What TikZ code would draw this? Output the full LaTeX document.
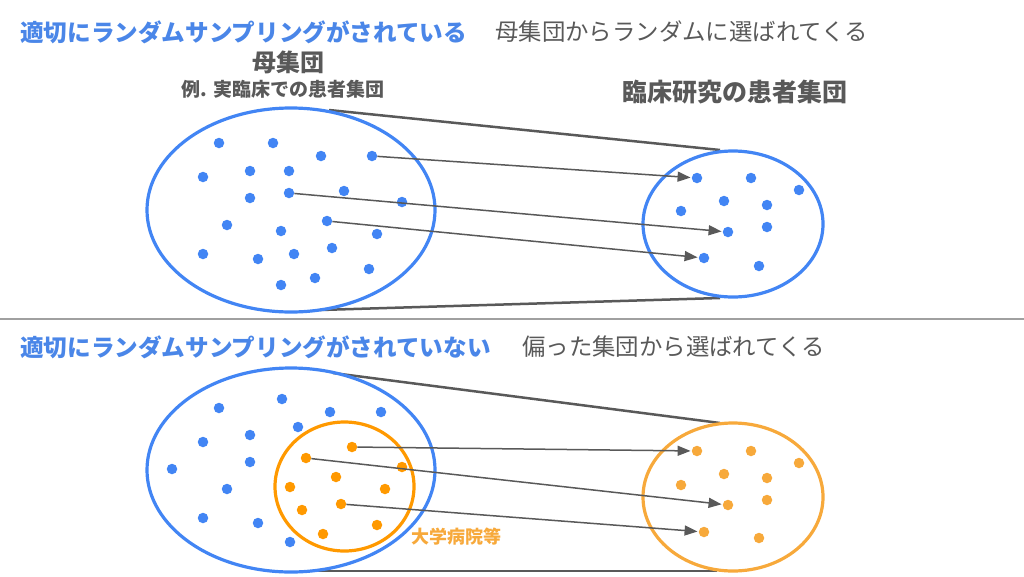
\documentclass[tikz,border=0pt]{standalone}
\usepackage{fontspec}
\setmainfont{Noto Sans CJK JP}
\usetikzlibrary{shapes.geometric,arrows.meta}
\definecolor{gblue}{HTML}{4285F4}
\definecolor{tblue}{HTML}{4A86E8}
\definecolor{dgray}{HTML}{595959}
\definecolor{lgray}{HTML}{A0A0A0}
\definecolor{orA}{HTML}{FF9900}
\definecolor{orB}{HTML}{F7A93B}
\begin{document}
\begin{tikzpicture}[x=1pt,y=-1pt,
  dot/.style={circle,fill=#1,minimum size=10.5pt,inner sep=0pt},
  pop/.style={ellipse,draw=#1,line width=3.2pt,inner sep=0pt},
  tang/.style={draw=dgray,line width=2.5pt},
  arr/.style={draw=dgray,line width=1.5pt,-{Triangle[length=13pt,width=10pt]},shorten >=1pt},
  title/.style={anchor=west,text=tblue,font=\bfseries\fontsize{23.6}{24}\selectfont,inner sep=0pt},
  sub/.style={anchor=west,text=dgray,font=\fontsize{23.4}{24}\selectfont,inner sep=0pt},
  lab/.style={text=dgray,inner sep=0pt},
]
\useasboundingbox (0,0) rectangle (1024,576);

% ---------- titles ----------
\node[title] (T1) at (20,32) {適切にランダムサンプリングがされている};
\node[sub] (U1) at (495,32) {母集団からランダムに選ばれてくる};
\node[lab,font=\bfseries\fontsize{24}{24}\selectfont] (L1) at (288,62) {母集団};
\node[lab,font=\bfseries\fontsize{19}{19}\selectfont] (L2) at (283,89) {例. 実臨床での患者集団};
\node[lab,anchor=west,font=\bfseries\fontsize{25}{25}\selectfont] (L3) at (622,92) {臨床研究の患者集団};

% ---------- top section ----------
\coordinate (t1a) at (329,110); \coordinate (t1b) at (720,150);
\coordinate (b1a) at (320,310); \coordinate (b1b) at (720,298);
\draw[tang] (t1a) -- (t1b);
\draw[tang] (b1a) -- (b1b);
\node[pop=gblue,minimum width=288pt,minimum height=204pt] (P1) at (291,210) {};
\node[pop=gblue,minimum width=180pt,minimum height=146pt] (S1) at (733,224) {};

\foreach \n/\x/\y in {a1/219/143,a2/273/143,a3/321/156,a4/372/156,a5/203/177,a6/250/171,a7/289/171,
  a8/250/198,a9/289/193,a10/344/191,a11/402/202,a12/227/225,a13/281/231,a14/327/221,a15/377/234,
  a16/203/254,a17/258/259,a18/294/254,a19/332/248,a20/369/269,a21/281/285,a22/315/278}
  \node[dot=gblue] (\n) at (\x,\y) {};
\foreach \n/\x/\y in {r1/697/178,r2/751/178,r3/799/190,r4/724/201,r5/767/205,r6/681/211,
  r7/728/232,r8/767/227,r9/704/258,r10/759/266}
  \node[dot=gblue] (\n) at (\x,\y) {};
\draw[arr] (a4) -- (r1);
\draw[arr] (a9) -- (r7);
\draw[arr] (a14) -- (r9);

% ---------- divider ----------
\coordinate (d1) at (0,319); \coordinate (d2) at (1024,319);
\draw[lgray,line width=1.5pt] (d1) -- (d2);

% ---------- bottom section ----------
\node[title] (T2) at (20,347) {適切にランダムサンプリングがされていない};
\node[sub] (U2) at (522,347) {偏った集団から選ばれてくる};

\coordinate (t2a) at (333,373); \coordinate (t2b) at (720,423);
\coordinate (b2a) at (303,571); \coordinate (b2b) at (717,571);
\draw[tang] (t2a) -- (t2b);
\draw[tang] (b2a) -- (b2b);
\node[pop=gblue,minimum width=288pt,minimum height=204pt] (P2) at (291,470) {};
\node[pop=orA,minimum width=139pt,minimum height=129pt] (O2) at (344.5,486.5) {};
\node[pop=orB,minimum width=180pt,minimum height=148pt] (S2) at (733,497) {};
\node[anchor=west,inner sep=0pt,text=orB,font=\bfseries\fontsize{18}{18}\selectfont] (L4) at (411,537) {大学病院等};

\foreach \n/\x/\y in {c1/219/408,c2/282/399,c3/330/412,c4/381/412,c5/298/427,c6/203/442,c7/250/435,
  c8/172/469,c9/250/462,c10/227/489,c11/203/518,c12/258/523,c13/290/542}
  \node[dot=gblue] (\n) at (\x,\y) {};
\foreach \n/\x/\y in {o1/352/447,o2/306/458,o3/402/467,o4/336/477,o5/290/487,o6/385/489,
  o7/302/510,o8/341/504,o9/377/525,o10/323/534}
  \node[dot=orA] (\n) at (\x,\y) {};
\foreach \n/\x/\y in {s1/697/451,s2/751/451,s3/799/463,s4/724/474,s5/767/478,s6/681/485,
  s7/728/505,s8/767/500,s9/704/532,s10/759/538}
  \node[dot=orB] (\n) at (\x,\y) {};
\draw[arr] (o1) -- (s1);
\draw[arr] (o2) -- (s7);
\draw[arr] (o8) -- (s9);
\end{tikzpicture}
\end{document}
